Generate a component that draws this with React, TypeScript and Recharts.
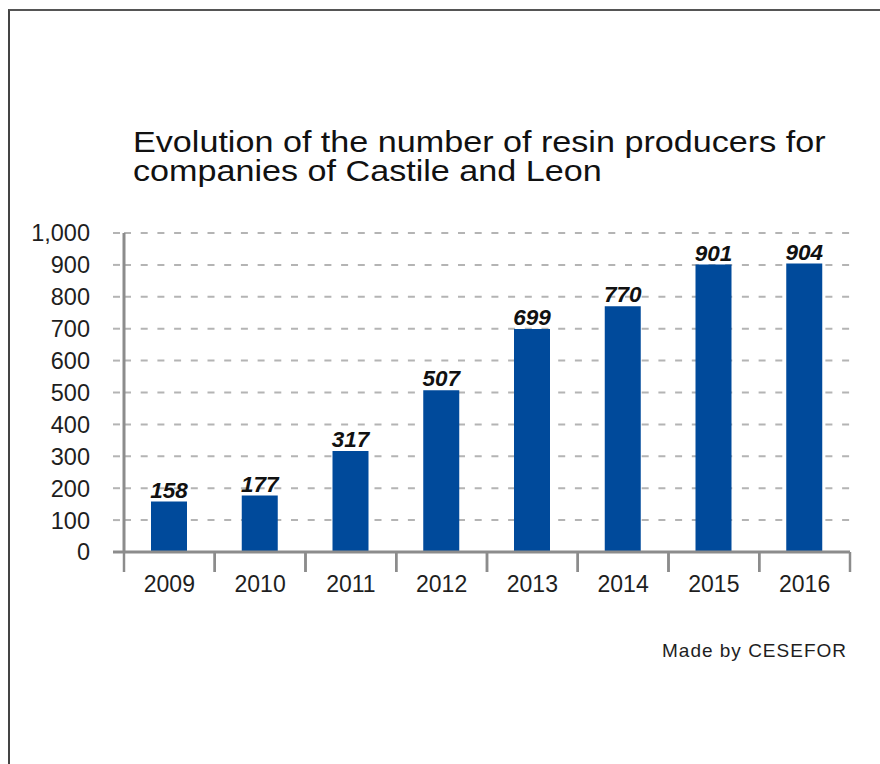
import React from "react";
import { Bar, BarChart, CartesianGrid, LabelList, XAxis, YAxis } from "recharts";

const years = ["2009", "2010", "2011", "2012", "2013", "2014", "2015", "2016"];
const producers = [158, 177, 317, 507, 699, 770, 901, 904];
const yTicks = [0, 100, 200, 300, 400, 500, 600, 700, 800, 900, 1000];

const data = years.map((year, i) => ({ year, value: producers[i] }));

const FONT = '"Liberation Sans", Arial, Helvetica, sans-serif';
const TEXT = "#1e1e1e";
const AXIS = "#8c8c8c";
const GRID = "#b4b4b4";
const BAR = "#004a9b";

const fmt = (v: number) => v.toLocaleString("en-US");

function YTick(props: any) {
  const { x, y, payload } = props;
  const axisX = x + 23 + 11;
  const zero = payload.value === 0;
  return (
    <g>
      <line
        x1={axisX - 11}
        x2={axisX}
        y1={y}
        y2={y}
        stroke={zero ? AXIS : GRID}
        strokeWidth={zero ? 3 : 2}
        strokeDasharray={zero ? undefined : "7 9.7"}
      />
      <text x={x} y={y} dy="0.36em" textAnchor="end" fill={TEXT} fontSize={23.5} fontFamily={FONT}>
        {fmt(payload.value)}
      </text>
    </g>
  );
}

function XTick(props: any) {
  const { x, y, payload } = props;
  const half = payload.offset || 726 / 16;
  const axisY = y - 24;
  return (
    <g>
      <line x1={x - half} x2={x - half} y1={axisY} y2={axisY + 20} stroke={AXIS} strokeWidth={2.5} />
      <line x1={x + half} x2={x + half} y1={axisY} y2={axisY + 20} stroke={AXIS} strokeWidth={2.5} />
      <text x={x} y={y} dy="0.71em" textAnchor="middle" fill={TEXT} fontSize={23} fontFamily={FONT}>
        {payload.value}
      </text>
    </g>
  );
}

export default function App() {
  return (
    <div style={{ position: "absolute", left: 0, top: 0, width: 880, height: 764, background: "#fff", overflow: "hidden" }}>
      <div
        style={{
          position: "absolute",
          left: 8,
          top: 9,
          width: 872,
          height: 755,
          boxSizing: "border-box",
          borderTop: "2px solid #555",
          borderLeft: "2px solid #444"
        }}
      />
      <div
        style={{
          position: "absolute",
          left: 133,
          top: 128,
          fontFamily: FONT,
          fontSize: 29,
          lineHeight: "29px",
          color: "#111",
          whiteSpace: "nowrap",
          transform: "scaleX(1.177)",
          transformOrigin: "left top"
        }}
      >
        Evolution of the number of resin producers for
        <br />
        companies of Castile and Leon
      </div>
      <div style={{ position: "absolute", left: 0, top: 200 }}>
        <BarChart width={880} height={400} data={data} margin={{ top: 33, right: 30, bottom: 8, left: 0 }}>
          <CartesianGrid vertical={false} stroke={GRID} strokeWidth={2} strokeDasharray="7 9.7" />
          <XAxis
            dataKey="year"
            height={40}
            axisLine={{ stroke: AXIS, strokeWidth: 3 }}
            tickLine={false}
            tickSize={20}
            tickMargin={4}
            interval={0}
            tick={<XTick />}
          />
          <YAxis
            width={124}
            domain={[0, 1000]}
            ticks={yTicks}
            interval={0}
            axisLine={{ stroke: AXIS, strokeWidth: 3 }}
            tickLine={false}
            tickSize={11}
            tickMargin={23}
            tick={<YTick />}
          />
          <Bar dataKey="value" fill={BAR} barSize={36} isAnimationActive={false}>
            <LabelList
              dataKey="value"
              position="top"
              offset={4}
              fill="#111"
              fontSize={22.5}
              fontWeight="bold"
              fontStyle="italic"
              fontFamily={FONT}
            />
          </Bar>
        </BarChart>
      </div>
      <div
        style={{
          position: "absolute",
          right: 33,
          top: 641,
          fontFamily: FONT,
          fontSize: 19,
          lineHeight: "19px",
          letterSpacing: 1,
          color: "#1e1e1e",
          whiteSpace: "nowrap"
        }}
      >
        Made by CESEFOR
      </div>
    </div>
  );
}
